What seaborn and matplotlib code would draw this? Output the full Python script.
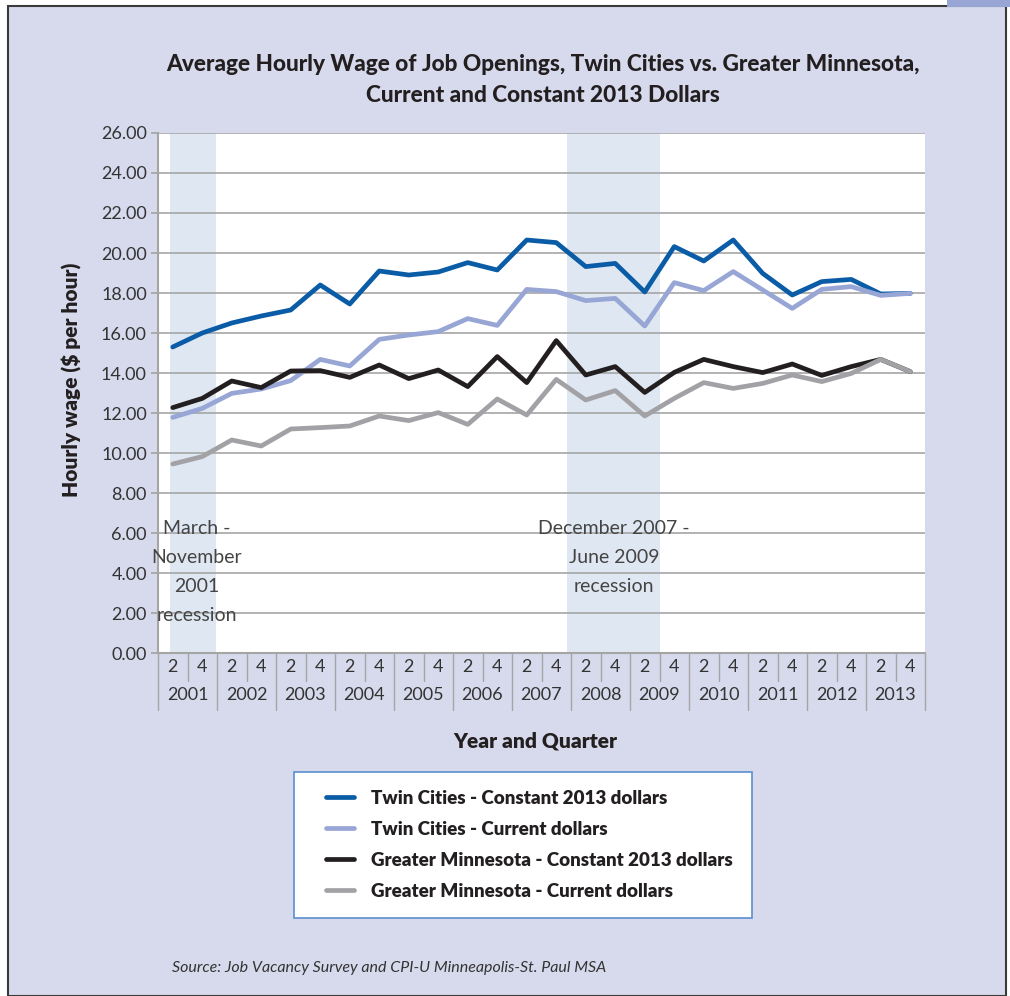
import numpy as np
import pandas as pd
import matplotlib
matplotlib.use("Agg")
import matplotlib.pyplot as plt
import matplotlib.transforms as mtransforms
import seaborn as sns

# Dati (trimestri 2 e 4, 2001-2013)
years = [str(y) for y in range(2001, 2014)]
quarters = ["2", "4"]
period_labels = [f"{y} Q{q}" for y in years for q in quarters]

tc_constant = [15.3, 16.0, 16.5, 16.85, 17.15, 18.4, 17.45, 19.1, 18.9, 19.05, 19.52, 19.15, 20.65,
               20.52, 19.32, 19.48, 18.05, 20.32, 19.6, 20.65, 18.98, 17.9, 18.57, 18.68, 17.95, 17.98]
tc_current = [11.78, 12.23, 12.98, 13.2, 13.62, 14.68, 14.35, 15.68, 15.9, 16.07, 16.72, 16.38, 18.18,
              18.07, 17.62, 17.73, 16.35, 18.52, 18.12, 19.07, 18.15, 17.23, 18.18, 18.32, 17.88, 17.98]
gm_constant = [12.27, 12.73, 13.6, 13.27, 14.1, 14.12, 13.78, 14.4, 13.72, 14.15, 13.32, 14.82, 13.52,
               15.62, 13.9, 14.32, 13.03, 14.03, 14.68, 14.32, 14.02, 14.45, 13.88, 14.32, 14.68, 14.07]
gm_current = [9.45, 9.82, 10.65, 10.35, 11.2, 11.27, 11.35, 11.85, 11.62, 12.02, 11.43, 12.7, 11.9,
              13.68, 12.65, 13.12, 11.85, 12.73, 13.52, 13.23, 13.48, 13.9, 13.57, 13.98, 14.68, 14.07]

series_names = [
    "Twin Cities - Constant 2013 dollars",
    "Twin Cities - Current dollars",
    "Greater Minnesota - Constant 2013 dollars",
    "Greater Minnesota - Current dollars",
]
series_colors = ["#0b5ca6", "#98a6d6", "#231f20", "#a2a2a6"]

# Periodi di recessione (in unita' di categoria)
recession_spans = [(-0.1, 1.46), (13.37, 16.53)]
recession_texts = ["March -\nNovember\n2001\nrecession", "December 2007 -\nJune 2009\nrecession"]
recession_text_x = [0.82, 14.96]

rows = []
for name, vals in zip(series_names, [tc_constant, tc_current, gm_constant, gm_current]):
    for i, v in enumerate(vals):
        rows.append({"idx": i, "period": period_labels[i], "wage": v, "series": name})
df = pd.DataFrame(rows)

sns.set_theme(style="white")
cond = ["Liberation Sans Narrow", "Lato", "DejaVu Sans"]
plt.rcParams["font.family"] = cond

bg = "#d7daec"
txt = "#333333"
W, H = 1010, 996

fig = plt.figure(figsize=(W / 100, H / 100), dpi=100)
fig.patch.set_facecolor("white")

# Pannello lavanda con cornice
panel = plt.Rectangle((8 / W, 0), (1006 - 8) / W, 1 - 6 / H, transform=fig.transFigure,
                      facecolor=bg, edgecolor="#3a3a3a", linewidth=1.5, zorder=-5)
fig.patches.append(panel)
corner = plt.Rectangle((947 / W, 1 - 7 / H), 63 / W, 7 / H, transform=fig.transFigure,
                       facecolor="#98a6d6", edgecolor="none", zorder=-5)
fig.patches.append(corner)
# riquadro della legenda
legbox = plt.Rectangle((294 / W, 1 - 918 / H), (752 - 294) / W, (918 - 772) / H, transform=fig.transFigure,
                       facecolor="white", edgecolor="#5b8fd0", linewidth=1.2, zorder=-4)
fig.patches.append(legbox)

ax = fig.add_axes([158 / W, 1 - 653 / H, 767 / W, 520 / H])
ax.set_facecolor("white")

for lo, hi in recession_spans:
    ax.axvspan(lo, hi, color="#dfe8f2", zorder=0, lw=0)

ax.set_ylim(0, 26)
ax.set_xlim(-0.5, len(period_labels) - 0.5)
ax.set_yticks(np.arange(0, 27, 2))
ax.set_yticklabels([f"{v:.2f}" for v in np.arange(0, 27, 2)], fontsize=13, color=txt)
ax.yaxis.grid(True, color="#a5a5a5", linewidth=1.2)
ax.set_axisbelow(True)

sns.lineplot(data=df, x="idx", y="wage", hue="series", hue_order=series_names,
             palette=series_colors, linewidth=3.4, ax=ax, zorder=3)

for tx, tl in zip(recession_text_x, recession_texts):
    ax.text(tx, 6.65, tl, ha="center", va="top", fontsize=14, color="#444444", linespacing=1.85, zorder=4)

for s in ["top", "right"]:
    ax.spines[s].set_visible(False)
ax.spines["left"].set_color("#a5a5a5")
ax.spines["left"].set_linewidth(1.5)
ax.spines["bottom"].set_color("#a5a5a5")
ax.spines["bottom"].set_linewidth(1.5)
ax.tick_params(axis="y", length=5, color="#a5a5a5", left=True, pad=3)

ax.set_xticks([])
ax.set_xlabel("")
ax.set_ylabel("")

# Etichette asse x a due livelli
trans = mtransforms.blended_transform_factory(ax.transData, ax.transAxes)
px = 1 / 520
for i, lab in enumerate(period_labels):
    q = quarters[i % 2]
    ax.text(i, -14 * px, q, transform=trans, ha="center", va="center", fontsize=13, color=txt)
for j, y in enumerate(years):
    ax.text(2 * j + 0.5, -42 * px, y, transform=trans, ha="center", va="center", fontsize=13, color=txt)
for k in range(len(period_labels) + 1):
    x = k - 0.5
    ybot = -57 * px if k % 2 == 0 else -28 * px
    ax.plot([x, x], [0, ybot], transform=trans, color="#a5a5a5", lw=1.0, clip_on=False)

# Legenda (senza cornice, il riquadro e' disegnato a parte)
leg = ax.legend(loc="upper left", bbox_to_anchor=(326 / W, 1 - 790 / H),
                bbox_transform=fig.transFigure, frameon=False,
                prop={"family": cond, "weight": "heavy", "size": 14},
                handlelength=1.45, handletextpad=0.85, borderpad=0, labelspacing=0.72,
                borderaxespad=0)
for t in leg.get_texts():
    t.set_color("#231f20")
for h in leg.get_lines():
    h.set_linewidth(3.4)

title = fig.text(543 / W, 1 - 80 / H,
                 "Average Hourly Wage of Job Openings, Twin Cities vs. Greater Minnesota,\nCurrent and Constant 2013 Dollars",
                 ha="center", va="center", fontsize=19, fontweight="black", color="#231f20", linespacing=1.6)
# adatta la larghezza del titolo e della legenda al riferimento
fig.canvas.draw()
w = title.get_window_extent().width
title.set_fontsize(19 * 752 / w)
lw_ = max(t.get_window_extent().width for t in leg.get_texts())
for t in leg.get_texts():
    t.set_fontsize(14 * 361 / lw_)

fig.text(72 / W, 1 - 380 / H, "Hourly wage ($ per hour)", rotation=90, ha="center", va="center",
         fontsize=15, fontweight="heavy", color="#231f20")
fig.text(535 / W, 1 - 741 / H, "Year and Quarter", ha="center", va="center",
         fontsize=15, fontweight="heavy", color="#231f20")
fig.text(172 / W, 1 - 968 / H, "Source: Job Vacancy Survey and CPI-U Minneapolis-St. Paul MSA",
         ha="left", va="center", fontsize=11.5, style="italic", color=txt)

fig.savefig("out.png", dpi=100)
